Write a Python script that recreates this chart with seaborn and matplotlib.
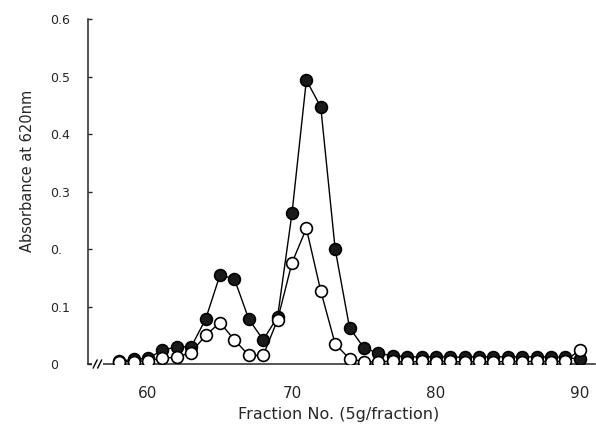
import numpy as np
import pandas as pd
import matplotlib
matplotlib.use("Agg")
import matplotlib.pyplot as plt
import seaborn as sns

# ---- data ----
fractions = list(range(58, 91))
filled_vals = [0.005, 0.008, 0.010, 0.024, 0.030, 0.030, 0.078, 0.155, 0.148, 0.078,
               0.042, 0.082, 0.262, 0.494, 0.447, 0.200, 0.063, 0.028, 0.019, 0.014,
               0.013, 0.012, 0.013, 0.012, 0.012, 0.013, 0.012, 0.013, 0.012, 0.013,
               0.012, 0.012, 0.008]
open_vals = [0.004, 0.004, 0.006, 0.010, 0.012, 0.020, 0.050, 0.072, 0.042, 0.015,
             0.015, 0.077, 0.176, 0.236, 0.127, 0.035, 0.009, 0.004, 0.004, 0.005,
             0.003, 0.005, 0.004, 0.005, 0.003, 0.005, 0.003, 0.005, 0.004, 0.005,
             0.004, 0.005, 0.025]
xticks = [60, 70, 80, 90]
yticks = [0, 0.1, 0.2, 0.3, 0.4, 0.5, 0.6]
ytick_labels = ["0", "0.1", "0.", "0.3", "0.4", "0.5", "0.6"]

df_filled = pd.DataFrame({"fraction": fractions, "abs": filled_vals})
df_open = pd.DataFrame({"fraction": fractions, "abs": open_vals})

sns.set_style("ticks")
plt.rcParams["font.family"] = ["DejaVu Sans"]

fig = plt.figure(figsize=(5.96, 4.25), dpi=100)
ax = fig.add_axes([0.1477, 0.1435, 0.8503, 0.8115])

sns.lineplot(data=df_filled, x="fraction", y="abs", ax=ax, color="black",
             linewidth=1.0, marker="o", markersize=8.5, markerfacecolor="#1a1a1a",
             markeredgecolor="black", markeredgewidth=1.2, zorder=3)
sns.lineplot(data=df_open, x="fraction", y="abs", ax=ax, color="black",
             linewidth=1.0, marker="o", markersize=8.5, markerfacecolor="white",
             markeredgecolor="black", markeredgewidth=1.2, zorder=4)

ax.set_xlim(55.83, 91.04)
ax.set_ylim(0, 0.6)
sns.despine(ax=ax)
for s in ["left", "bottom"]:
    ax.spines[s].set_linewidth(1.1)
    ax.spines[s].set_zorder(2)

ax.set_xticks(xticks)
ax.set_xticklabels([str(t) for t in xticks], fontsize=11)
ax.tick_params(axis="x", length=0, pad=16)

ax.set_yticks(yticks)
ax.set_yticklabels(ytick_labels, fontsize=9)
ax.tick_params(axis="y", direction="in", length=3, width=1.0, pad=27)
for lab in ax.get_yticklabels():
    lab.set_horizontalalignment("left")

ax.set_xlabel("Fraction No. (5g/fraction)", fontsize=11.5)
ax.xaxis.set_label_coords(0.495, -0.125)
ax.set_ylabel("Absorbance at 620nm", fontsize=10.5)
ax.yaxis.set_label_coords(-0.105, 0.56)

# axis break marks on the bottom spine
tr = ax.transAxes
ax.add_patch(plt.Rectangle((0.008, -0.012), 0.022, 0.024, transform=tr,
                           facecolor="white", edgecolor="none", clip_on=False, zorder=2.5))
for x0 in (0.010, 0.019):
    ax.plot([x0, x0 + 0.008], [-0.012, 0.012], transform=tr, color="black",
            linewidth=1.0, clip_on=False, zorder=2.6)

fig.savefig("out.png", dpi=100)
